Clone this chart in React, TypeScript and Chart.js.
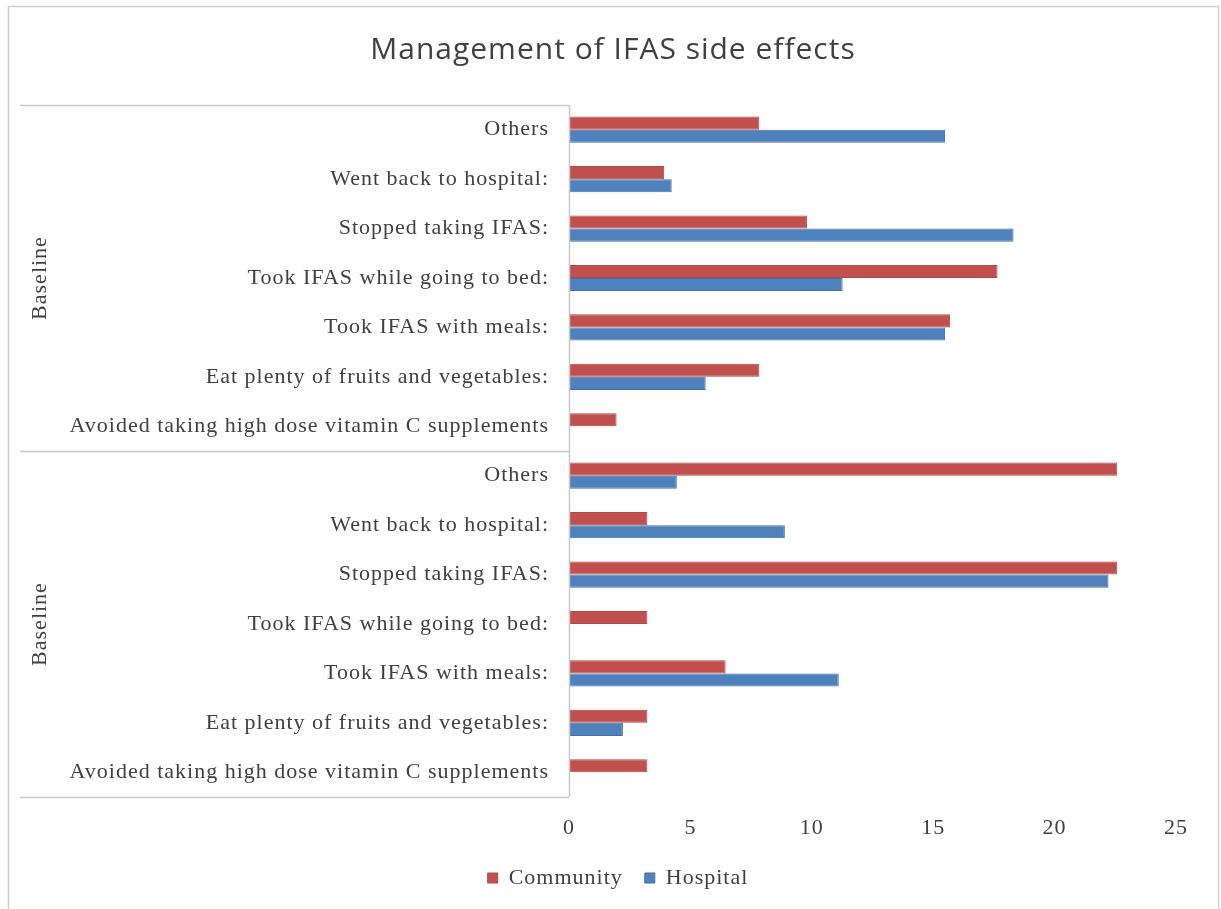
import React, { useEffect, useRef } from "react";
import { Chart, registerables } from "chart.js";

Chart.register(...registerables);

const titleText = "Management of IFAS side effects";
const categories = [
  "Others",
  "Went back to hospital:",
  "Stopped taking IFAS:",
  "Took IFAS while going to bed:",
  "Took IFAS with meals:",
  "Eat plenty of fruits and vegetables:",
  "Avoided taking high dose vitamin C supplements",
  "Others",
  "Went back to hospital:",
  "Stopped taking IFAS:",
  "Took IFAS while going to bed:",
  "Took IFAS with meals:",
  "Eat plenty of fruits and vegetables:",
  "Avoided taking high dose vitamin C supplements",
];
const groupLabels = ["Baseline", "Baseline"];
const groupSize = 7;
const communityValues = [7.84, 3.92, 9.8, 17.65, 15.69, 7.84, 1.96, 22.58, 3.23, 22.58, 3.23, 6.45, 3.23, 3.23];
const hospitalValues = [15.49, 4.23, 18.31, 11.27, 15.49, 5.63, 0, 4.44, 8.89, 22.22, 0, 11.11, 2.22, 0];
const xTicks = [0, 5, 10, 15, 20, 25];

const SERIF = "'Liberation Serif', 'Times New Roman', serif";
const TEXT = "#404040";

const setSpacing = (chart: any) => {
  try {
    chart.ctx.letterSpacing = "1px";
  } catch (e) {}
};

const decorPlugin = {
  id: "decor",
  beforeUpdate(chart: any) {
    setSpacing(chart);
  },
  beforeLayout(chart: any) {
    setSpacing(chart);
  },
  afterLayout(chart: any) {
    if (chart.legend) {
      chart.legend.left += 30;
      chart.legend.right += 30;
    }
  },
  beforeDraw(chart: any) {
    setSpacing(chart);
    const ctx = chart.ctx;
    ctx.save();
    ctx.fillStyle = "#ffffff";
    ctx.fillRect(0, 0, chart.width, chart.height);
    ctx.restore();
  },
  afterDraw(chart: any) {
    const ctx = chart.ctx;
    const area = chart.chartArea;
    const y = chart.scales.y;
    ctx.save();
    // outer border
    ctx.strokeStyle = "#d0d0d0";
    ctx.lineWidth = 1.5;
    ctx.beginPath();
    ctx.moveTo(8.5, chart.height);
    ctx.lineTo(8.5, 6.5);
    ctx.lineTo(1218.5, 6.5);
    ctx.lineTo(1218.5, chart.height);
    ctx.stroke();
    // title
    ctx.fillStyle = TEXT;
    ctx.font = "400 30px 'Open Sans', 'Noto Sans', sans-serif";
    ctx.textAlign = "center";
    ctx.textBaseline = "middle";
    ctx.fillText(titleText, 613, 50);
    // group separators
    ctx.strokeStyle = "#c8c8c8";
    ctx.lineWidth = 1.5;
    const n = categories.length;
    const nGroups = Math.ceil(n / groupSize);
    const bounds: number[] = [];
    for (let g = 0; g <= nGroups; g++) {
      const i = g * groupSize;
      let py: number;
      if (i === 0) py = area.top;
      else if (i >= n) py = area.bottom;
      else py = (y.getPixelForValue(i - 1) + y.getPixelForValue(i)) / 2;
      bounds.push(py);
      ctx.beginPath();
      ctx.moveTo(20, Math.round(py) + 0.5);
      ctx.lineTo(area.left, Math.round(py) + 0.5);
      ctx.stroke();
    }
    // axis line
    ctx.beginPath();
    ctx.moveTo(area.left + 0.5, area.top);
    ctx.lineTo(area.left + 0.5, area.bottom);
    ctx.stroke();
    // group labels
    ctx.fillStyle = TEXT;
    ctx.font = "22px " + SERIF;
    for (let g = 0; g < nGroups; g++) {
      const cy = (bounds[g] + bounds[g + 1]) / 2;
      ctx.save();
      ctx.translate(40, cy);
      ctx.rotate(-Math.PI / 2);
      ctx.textAlign = "center";
      ctx.textBaseline = "middle";
      ctx.fillText(groupLabels[g], 0, 0);
      ctx.restore();
    }
    ctx.restore();
  },
};

export default function App() {
  const ref = useRef<HTMLCanvasElement | null>(null);
  useEffect(() => {
    if (!ref.current) return;
    const chart = new Chart(ref.current, {
      type: "bar",
      data: {
        labels: categories,
        datasets: [
          {
            label: "Community",
            data: communityValues,
            backgroundColor: "#C0504D",
            borderColor: "#B64643",
            borderWidth: (c: any) => (c.raw === 0 ? 0 : 1),
          },
          {
            label: "Hospital",
            data: hospitalValues,
            backgroundColor: "#4F81BD",
            borderColor: "#3F70AC",
            borderWidth: (c: any) => (c.raw === 0 ? 0 : 1),
          },
        ],
      },
      options: {
        indexAxis: "y",
        animation: false,
        responsive: false,
        maintainAspectRatio: false,
        datasets: { bar: { barPercentage: 1, categoryPercentage: 0.53 } },
        layout: { padding: { top: 105, right: 45, left: 0, bottom: 10 } },
        scales: {
          x: {
            min: 0,
            max: 25,
            afterBuildTicks: (s: any) => {
              s.ticks = xTicks.map((v) => ({ value: v }));
            },
            afterFit: (s: any) => {
              s.height = 48;
            },
            grid: { display: false, drawTicks: false },
            border: { display: false },
            ticks: { color: TEXT, font: { family: SERIF, size: 22 }, padding: 18 },
          },
          y: {
            afterFit: (s: any) => {
              s.width = 569;
            },
            grid: { display: false, drawTicks: false },
            border: { display: false },
            ticks: { color: TEXT, font: { family: SERIF, size: 22 }, padding: 20, autoSkip: false },
          },
        },
        plugins: {
          legend: {
            position: "bottom",
            labels: {
              color: TEXT,
              font: { family: SERIF, size: 22 },
              boxWidth: 10,
              boxHeight: 10,
              padding: 22,
            },
          },
          tooltip: { enabled: false },
          title: { display: false },
        },
      },
      plugins: [decorPlugin],
    } as any);
    return () => chart.destroy();
  }, []);
  return (
    <div style={{ position: "absolute", left: 0, top: 0, width: 1221, height: 909, overflow: "hidden" }}>
      <canvas ref={ref} width={1221} height={909} style={{ width: 1221, height: 909, display: "block" }} />
    </div>
  );
}
